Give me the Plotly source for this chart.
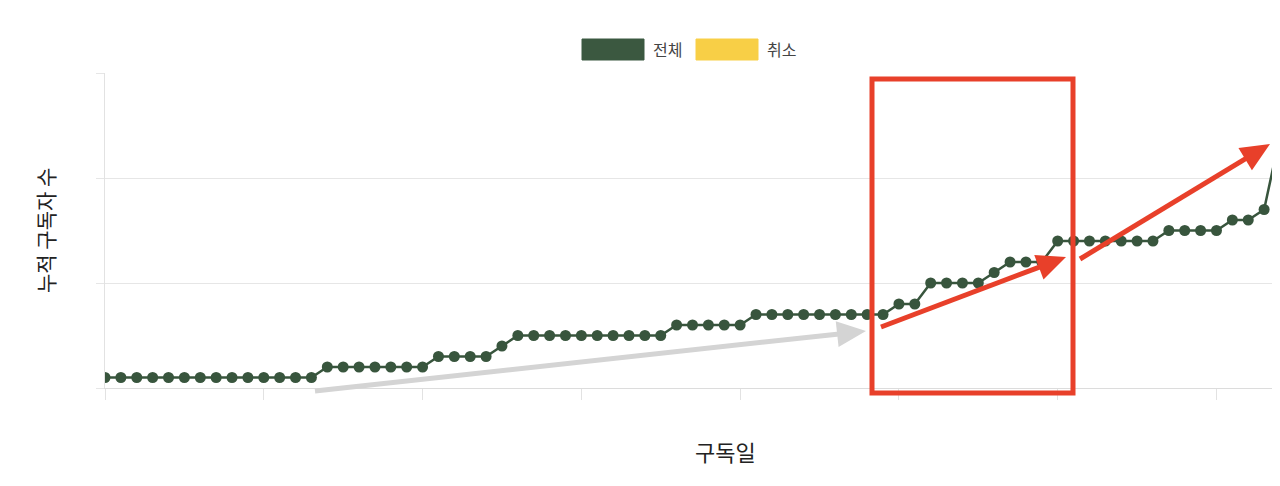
import plotly.graph_objects as go

# cumulative subscriber count per day (75 days)
days = list(range(75))
total = ([1] * 14 + [2] * 7 + [3] * 4 + [4] + [5] * 10 + [6] * 5 + [7] * 9
         + [8] * 2 + [10] * 4 + [11] + [12] * 3 + [14] * 7 + [15] * 4
         + [16] * 2 + [17] + [24])
legend_names = ["전체", "취소"]
legend_colors = ["#3b5840", "#f8cf46"]

FONT = "Noto Sans CJK KR"
OFF = 8  # page body margin
W, H = 1272, 460
L, R, T, B = 97, 0, 65, 80
PW, PH = W - L - R, H - T - B


def px(x, y):
    # window pixel position -> paper coordinates
    return (x - OFF - L) / PW, (H - B - (y - OFF)) / PH


def arrow(x0, y0, x1, y1, color, width=5, head_len=29, head_w=26):
    dx, dy = x1 - x0, y1 - y0
    d = (dx ** 2 + dy ** 2) ** 0.5
    ux, uy = dx / d, dy / d
    bx, by = x1 - ux * head_len, y1 - uy * head_len
    nx, ny = -uy, ux
    a = px(x0, y0)
    b = px(bx + ux * 2, by + uy * 2)
    p1 = px(x1, y1)
    p2 = px(bx + nx * head_w / 2, by + ny * head_w / 2)
    p3 = px(bx - nx * head_w / 2, by - ny * head_w / 2)
    return [
        dict(type="line", xref="paper", yref="paper", x0=a[0], y0=a[1],
             x1=b[0], y1=b[1], line=dict(color=color, width=width)),
        dict(type="path", xref="paper", yref="paper",
             path=f"M {p1[0]} {p1[1]} L {p2[0]} {p2[1]} L {p3[0]} {p3[1]} Z",
             fillcolor=color, line=dict(color=color, width=0)),
    ]


fig = go.Figure()
fig.add_trace(go.Scatter(
    x=days, y=total, mode="lines+markers", name="전체",
    line=dict(color="#38553d", width=2.5),
    marker=dict(color="#38553d", size=11),
    showlegend=False,
))

shapes = []
# legend drawn as boxes like the original
box_x = [582, 696]
text_x = [651, 765]
annotations = []
for i, name in enumerate(legend_names):
    a = px(box_x[i], 39)
    b = px(box_x[i] + 62, 60)
    shapes.append(dict(type="rect", xref="paper", yref="paper",
                       x0=a[0], y0=a[1], x1=b[0], y1=b[1],
                       fillcolor=legend_colors[i],
                       line=dict(color=legend_colors[i], width=1)))
    t = px(text_x[i], 49)
    annotations.append(dict(xref="paper", yref="paper", x=t[0], y=t[1],
                            text=name, showarrow=False, xanchor="left",
                            yanchor="middle",
                            font=dict(family=FONT, size=16, color="#444")))

# highlights
shapes += arrow(315, 391, 866, 331, "#d4d4d4")
r0 = px(872, 79)
r1 = px(1073, 393)
shapes.append(dict(type="rect", xref="paper", yref="paper",
                   x0=r0[0], y0=r0[1], x1=r1[0], y1=r1[1],
                   line=dict(color="#e8402a", width=5)))
shapes += arrow(881, 327, 1066, 257, "#e8402a")
shapes += arrow(1080, 259, 1270, 144, "#e8402a")

t = px(725, 451)
annotations.append(dict(xref="paper", yref="paper", x=t[0], y=t[1],
                        text="구독일", showarrow=False,
                        xanchor="center", yanchor="middle",
                        font=dict(family=FONT, size=22, color="#222")))
t = px(45, 231)
annotations.append(dict(xref="paper", yref="paper", x=t[0], y=t[1],
                        text="누적 구독자 수", showarrow=False, textangle=-90,
                        xanchor="center", yanchor="middle",
                        font=dict(family=FONT, size=21, color="#222")))

fig.update_layout(
    width=W, height=H,
    margin=dict(l=L, r=R, t=T, b=B),
    paper_bgcolor="white", plot_bgcolor="white",
    font=dict(family=FONT),
    shapes=shapes, annotations=annotations,
    xaxis=dict(range=[0, 74], tickvals=list(range(0, 75, 10)),
               showticklabels=False, showgrid=False,
               ticks="outside", ticklen=11, tickcolor="#e2e2e2",
               showline=True, linecolor="#dcdcdc", zeroline=False),
    yaxis=dict(range=[0, 30], tickvals=[0, 10, 20, 30],
               showticklabels=False, showgrid=True, gridcolor="#e6e6e6",
               ticks="outside", ticklen=8, tickcolor="#e6e6e6",
               showline=True, linecolor="#e2e2e2", zeroline=False),
)

fig.write_html("out.html")
